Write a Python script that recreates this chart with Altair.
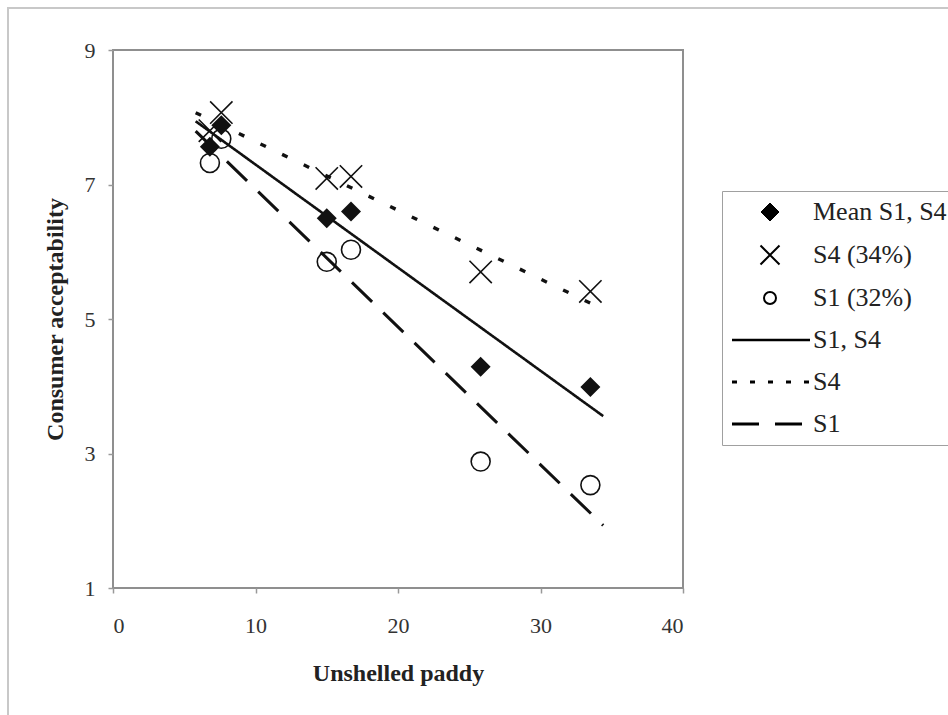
import altair as alt
import pandas as pd

# ---- data ----
x_vals = [6.8, 7.6, 15.0, 16.7, 25.8, 33.5]
mean_vals = [7.56, 7.88, 6.50, 6.60, 4.29, 3.99]
s4_vals = [7.80, 8.07, 7.09, 7.12, 5.70, 5.41]
s1_vals = [7.32, 7.68, 5.85, 6.03, 2.88, 2.53]

x_ticks = [0, 10, 20, 30, 40]
y_ticks = [1, 3, 5, 7, 9]

legend_labels = ["Mean S1, S4", "S4 (34%)", "S1 (32%)", "S1, S4", "S4", "S1"]

trend_extent = [5.8, 34.4]

# ---- styles ----
SERIF = "Liberation Serif"
INK = "#111111"
CROSS = "M-1,-1L1,1M-1,1L1,-1"

legend_shapes = [
    "M2.7,-0.9L3.6,0L2.7,0.9L1.8,0Z",
    "M1.75,-0.95L3.65,0.95M1.75,0.95L3.65,-0.95",
    "M3.3,0A0.6,0.6 0 1 1 2.1,0A0.6,0.6 0 1 1 3.3,0Z",
    "M-1.1,0H6.7",
    "M-1.1,0H-0.6M0.7,0H1.2M2.5,0H3M4.3,0H4.8M6.1,0H6.6",
    "M-1.1,0H1.6M3.2,0H5.9",
]
legend_fills = ["black", "transparent", "transparent", "transparent", "transparent", "transparent"]
legend_strokes = ["black"] * 6
legend_widths = [1, 2, 2, 2.6, 3.2, 3.2]

mean_df = pd.DataFrame({"x": x_vals, "y": mean_vals})
s4_df = pd.DataFrame({"x": x_vals, "y": s4_vals})
s1_df = pd.DataFrame({"x": x_vals, "y": s1_vals})
legend_df = pd.DataFrame({"legend": legend_labels})

x_enc = alt.X(
    "x:Q",
    scale=alt.Scale(domain=[0, 40], nice=False),
    axis=alt.Axis(
        values=x_ticks, title="Unshelled paddy", grid=False, domain=False,
        tickSize=5, tickColor="#999999", tickWidth=1.5,
        labelFont=SERIF, labelFontSize=22, labelColor="#333333", labelPadding=22,
        titleFont=SERIF, titleFontSize=24, titleFontWeight="bold", titleColor="#222222",
        titleY=85, titleBaseline="middle",
    ),
)
y_enc = alt.Y(
    "y:Q",
    scale=alt.Scale(domain=[1, 9], nice=False),
    axis=alt.Axis(
        values=y_ticks, title="Consumer acceptability", grid=False, domain=False,
        tickSize=5, tickColor="#999999", tickWidth=1.5,
        labelFont=SERIF, labelFontSize=22, labelColor="#333333", labelPadding=13,
        titleFont=SERIF, titleFontSize=24, titleFontWeight="bold", titleColor="#222222",
        titleX=-58, titleY=269, titleBaseline="middle", titleAngle=270,
    ),
)


def trend(df, dash, width):
    return alt.Chart(df).transform_regression(
        "x", "y", extent=trend_extent
    ).mark_line(color=INK, strokeWidth=width, strokeDash=dash).encode(x=x_enc, y=y_enc)


solid = trend(mean_df, [1, 0], 2.6)
dotted = trend(s4_df, [6, 18], 3.4)
dashed = trend(s1_df, [28, 15.5], 3.0)

mean_pts = alt.Chart(mean_df).mark_point(
    shape="diamond", filled=True, color=INK, size=400, opacity=1
).encode(x=x_enc, y=y_enc)
s4_pts = alt.Chart(s4_df).mark_point(
    shape=CROSS, filled=False, color=INK, size=500, strokeWidth=1.6, opacity=1
).encode(x=x_enc, y=y_enc)
s1_pts = alt.Chart(s1_df).mark_point(
    shape="circle", filled=False, color=INK, size=360, strokeWidth=1.6, opacity=1
).encode(x=x_enc, y=y_enc)

# outer chart-area border (top and left edges fall inside the picture)
frame = alt.Chart(legend_df).mark_rect(
    fill="transparent", stroke="#c8c8c8", strokeWidth=2
).encode(
    x=alt.value(-105), x2=alt.value(900), y=alt.value(-42), y2=alt.value(700)
).transform_filter("datum.legend == 'S1'")

leg = alt.Legend(
    orient="none", legendX=609, legendY=141, title=None,
    labelFont=SERIF, labelFontSize=26, labelColor="#222222", labelLimit=400,
    labelOffset=57, symbolSize=400, symbolStrokeColor="black",
    padding=8, rowPadding=16, strokeColor="#a0a0a0", fillColor="white",
)
legend_layer = alt.Chart(legend_df).transform_filter("false").mark_point(
    opacity=1
).encode(
    shape=alt.Shape("legend:N", scale=alt.Scale(domain=legend_labels, range=legend_shapes), legend=leg),
    fill=alt.Fill("legend:N", scale=alt.Scale(domain=legend_labels, range=legend_fills), legend=leg),
    stroke=alt.Stroke("legend:N", scale=alt.Scale(domain=legend_labels, range=legend_strokes), legend=leg),
    strokeWidth=alt.StrokeWidth("legend:N", scale=alt.Scale(type="ordinal", domain=legend_labels, range=legend_widths), legend=leg),
)

chart = alt.layer(
    frame, dashed, dotted, solid, s1_pts, s4_pts, mean_pts, legend_layer
).properties(
    width=570, height=538,
    padding={"left": 113, "top": 50, "right": 265, "bottom": 127},
    autosize=alt.AutoSizeParams(type="none"),
    background="white",
).configure_view(stroke="#8f8f8f", strokeWidth=2)

chart.save("out.html", embed_options={"renderer": "svg", "actions": False})
